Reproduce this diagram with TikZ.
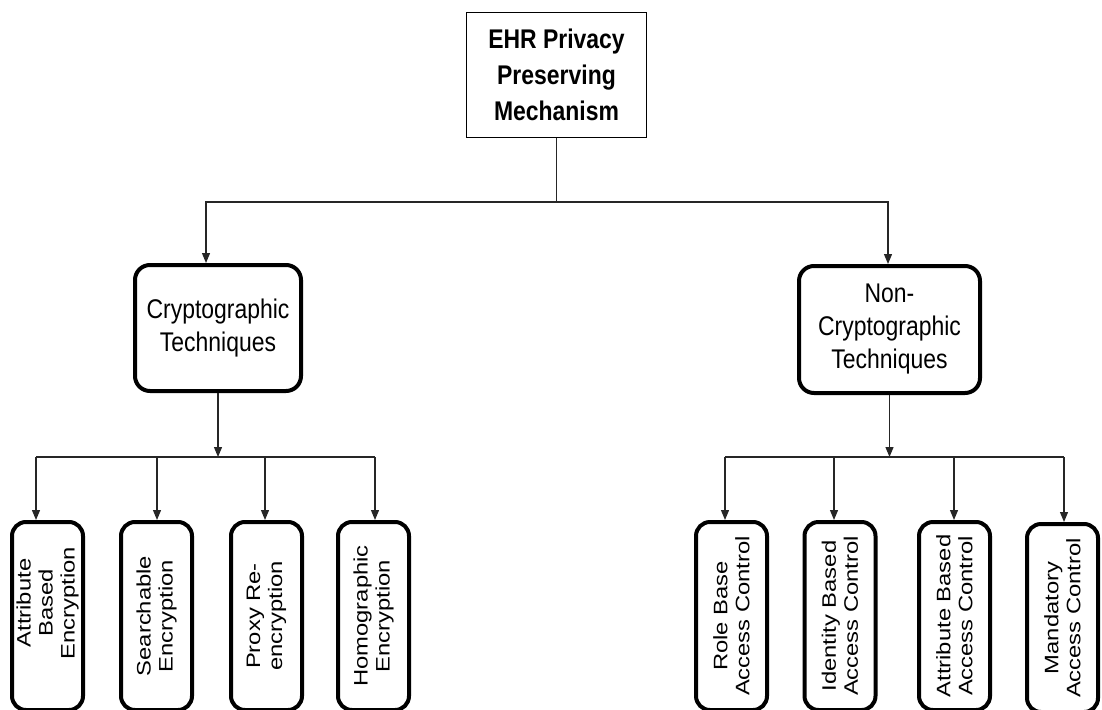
\documentclass[tikz,border=0pt]{standalone}
\usepackage{fontspec}
\setmainfont{Liberation Sans}
\newfontfamily\midfont[FakeStretch=0.85]{Liberation Sans}
\newfontfamily\rotfont[FakeStretch=1.22]{Liberation Sans}
\usetikzlibrary{arrows.meta}

\tikzset{
  rootbox/.style={draw, line width=1.5pt, minimum width=180pt, minimum height=125pt,
    align=center, font={\midfont\bfseries\fontsize{27}{36}\selectfont}, inner sep=0pt},
  groupbox/.style={draw, line width=4pt, rounded corners=15pt, align=center,
    font={\midfont\fontsize{27}{33}\selectfont}, inner sep=0pt, fill=white},
  leafbox/.style={draw, line width=4pt, rounded corners=14pt, rotate=90, align=center,
    minimum width=188pt, minimum height=71pt, inner sep=0pt,
    font={\rotfont\fontsize{19.5}{22}\selectfont}},
  link/.style={line width=1.2pt, draw=black!85},
  arr/.style={link, -{Triangle[length=10pt,width=8pt]}},
}

\begin{document}
\begin{tikzpicture}[x=1pt, y=-1pt]
\useasboundingbox (0,0) rectangle (1102,709);
\clip (0,0) rectangle (1102,709);

% root
\node[rootbox] (root) at (556.5,75) {EHR Privacy\\Preserving\\Mechanism};

% the two families of techniques
\node[groupbox, minimum width=166pt, minimum height=126pt] (crypto) at (218,328)
  {Cryptographic\\Techniques};
\node[groupbox, minimum width=181pt, minimum height=127pt] (noncrypto) at (889.5,329.5)
  {Non-\\Cryptographic\\Techniques};

% cryptographic techniques (first label sits a little higher in its box)
\node[leafbox] (ab)  at (47.5,616)
  {\kern26pt Attribute\\\kern26pt Based\\\kern26pt Encryption};
\node[leafbox] (se)  at (156.5,616) {Searchable\\Encryption};
\node[leafbox] (pr)  at (266.5,616) {Proxy Re-\\encryption};
\node[leafbox] (he)  at (373.5,616) {Homographic\\Encryption};

% non-cryptographic techniques
\node[leafbox] (rbac) at (731.5,616)  {Role Base\\Access Control};
\node[leafbox] (ibac) at (840,616)    {Identity Based\\Access Control};
\node[leafbox] (abac) at (954.5,616)  {Attribute Based\\Access Control};
\node[leafbox] (mac)  at (1062.5,618) {Mandatory\\Access Control};

% root fan-out
\coordinate (ka) at (206,202);
\coordinate (kb) at (888,202);
\draw[arr] (root.south) |- (ka) -- (ka |- crypto.north);
\draw[arr] (root.south) |- (kb) -- (kb |- noncrypto.north);

% cryptographic fan-out
\coordinate (la) at (36,457);
\coordinate (lb) at (157,457);
\coordinate (lc) at (265,457);
\coordinate (ld) at (375,457);
\draw[arr] (crypto.south) -- (crypto.south |- la);
\draw[link] (la) -- (ld);
\draw[arr] (la) -- (la |- ab.east);
\draw[arr] (lb) -- (lb |- se.east);
\draw[arr] (lc) -- (lc |- pr.east);
\draw[arr] (ld) -- (ld |- he.east);

% non-cryptographic fan-out
\coordinate (ra) at (725,457);
\coordinate (rb) at (834,457);
\coordinate (rc) at (954,457);
\coordinate (rd) at (1064,457);
\draw[arr] (noncrypto.south) -- (noncrypto.south |- ra);
\draw[link] (ra) -- (rd);
\draw[arr] (ra) -- (ra |- rbac.east);
\draw[arr] (rb) -- (rb |- ibac.east);
\draw[arr] (rc) -- (rc |- abac.east);
\draw[arr] (rd) -- (rd |- mac.east);
\end{tikzpicture}
\end{document}
